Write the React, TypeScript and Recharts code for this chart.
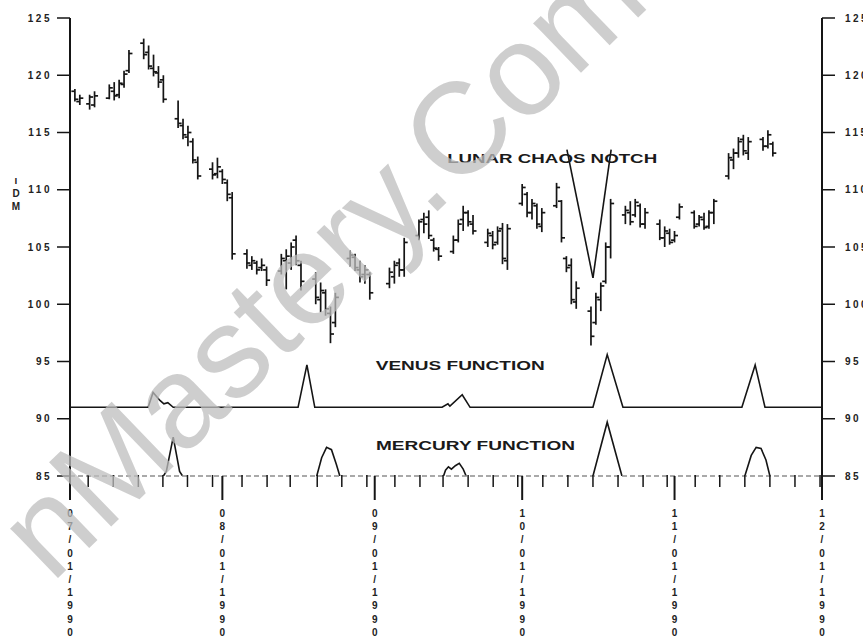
import React from 'react';
import { ComposedChart, Bar, Line, XAxis, YAxis, ReferenceLine, ReferenceDot } from 'recharts';

// trading days, counted in calendar days from 07/01/1990
const tradeDays = [
  1, 2, 4, 5, 8, 9, 10, 11, 12, 15, 16, 17, 18, 19, 22, 23, 24, 25, 26, 29, 30,
  31, 32, 33, 36, 37, 38, 39, 40, 43, 44, 45, 46, 47, 50, 51, 52, 53, 54, 57, 58, 59, 60, 61,
  65, 66, 67, 68, 71, 72, 73, 74, 75, 78, 79, 80, 81, 82, 85, 86, 87, 88, 89,
  92, 93, 94, 95, 96, 99, 100, 101, 102, 103, 106, 107, 108, 109, 110, 113, 114, 115, 116, 117, 120, 121, 122,
  123, 124, 127, 128, 129, 130, 131, 134, 135, 136, 137, 138, 141, 142, 143,
];
const highs = [
  118.8, 118.3, 118.3, 118.6, 119.2, 119.4, 119.6, 120.4, 122.2, 123.2, 122.6, 121.8, 120.8, 120.0, 117.8, 116.2, 115.6, 114.5, 112.9, 112.4, 112.8,
  111.8, 110.9, 109.8, 104.8, 104.2, 103.8, 104.0, 103.3, 104.4, 104.8, 105.4, 106.0, 103.8, 102.8, 101.9, 101.3, 99.8, 101.0, 104.7, 104.4, 103.8, 103.4, 102.8,
  103.2, 103.8, 104.0, 105.8, 107.4, 108.0, 108.2, 105.8, 105.0, 106.0, 107.4, 108.6, 108.2, 107.8, 106.6, 106.4, 106.8, 107.1, 107.0,
  110.5, 109.8, 109.2, 108.8, 108.4, 110.6, 109.1, 104.2, 104.0, 102.0, 99.8, 101.0, 101.9, 105.4, 109.2, 108.6, 109.0, 109.2, 108.8, 108.4, 107.4, 106.8, 106.6,
  106.4, 108.8, 108.2, 107.8, 108.0, 108.2, 109.2, 113.2, 113.6, 114.6, 114.8, 114.6, 114.6, 115.2, 114.2,
];
const lows = [
  117.7, 117.4, 117.0, 117.2, 117.9, 117.8, 118.0, 118.9, 120.2, 121.4, 120.5, 119.9, 118.9, 117.6, 115.4, 114.4, 113.8, 112.3, 110.9, 110.9, 111.0,
  110.5, 109.0, 103.9, 103.1, 103.0, 102.6, 102.9, 101.6, 102.6, 101.3, 103.0, 103.4, 101.2, 100.0, 99.3, 99.0, 96.6, 98.0, 103.3, 102.9, 101.9, 101.8, 100.4,
  101.4, 101.8, 102.4, 102.4, 105.6, 106.2, 105.7, 104.6, 103.8, 104.4, 105.4, 106.4, 106.8, 106.1, 105.0, 104.8, 105.2, 103.5, 103.0,
  108.6, 107.6, 107.4, 106.6, 106.3, 108.4, 105.4, 102.8, 100.0, 99.6, 96.4, 98.2, 99.4, 101.8, 104.0, 107.0, 106.9, 107.6, 106.7, 106.6, 105.6, 105.0, 105.2,
  105.4, 107.4, 106.6, 106.8, 106.5, 106.6, 107.0, 110.9, 111.8, 112.8, 113.0, 112.6, 113.4, 113.6, 112.9,
];
const opens = [
  118.6, 117.7, 117.5, 117.4, 118.0, 118.6, 118.3, 119.2, 120.4, 122.8, 122.0, 120.6, 120.2, 119.6, 116.2, 115.6, 114.6, 114.2, 112.4, 111.8, 111.4,
  111.6, 110.6, 109.3, 104.4, 103.4, 103.6, 103.2, 103.0, 102.9, 103.8, 103.6, 105.6, 103.4, 102.2, 100.4, 101.0, 99.2, 98.4, 104.0, 104.1, 103.0, 102.6, 102.6,
  101.8, 102.4, 103.6, 103.0, 106.0, 107.4, 107.6, 105.6, 104.8, 104.6, 105.6, 107.4, 108.0, 107.0, 105.4, 106.0, 105.4, 106.6, 103.8,
  108.8, 109.6, 108.0, 108.6, 106.8, 108.6, 109.0, 104.0, 103.4, 100.2, 99.4, 98.4, 100.4, 102.0, 105.0, 107.8, 108.0, 107.8, 108.6, 107.0, 107.0, 105.8, 106.2,
  105.6, 107.6, 108.0, 107.0, 107.4, 106.8, 108.0, 111.2, 112.6, 113.2, 114.4, 113.2, 114.4, 113.8, 114.0,
];
const closes = [
  117.9, 118.0, 118.1, 118.2, 118.9, 118.2, 119.3, 120.1, 121.9, 121.8, 120.8, 120.3, 119.4, 117.9, 115.8, 114.8, 115.0, 112.6, 111.2, 111.3, 112.0,
  110.9, 109.6, 104.4, 103.6, 103.8, 103.0, 103.4, 102.1, 104.0, 104.2, 105.0, 103.8, 102.0, 100.6, 101.2, 99.6, 97.4, 100.6, 104.3, 103.2, 102.4, 103.0, 101.0,
  102.8, 103.4, 103.0, 105.4, 107.2, 107.0, 106.0, 104.9, 104.2, 105.6, 107.0, 108.0, 107.2, 106.4, 106.2, 105.2, 106.4, 104.0, 106.6,
  110.2, 108.0, 108.8, 107.0, 108.0, 110.2, 105.8, 103.2, 100.4, 101.4, 97.2, 100.6, 101.6, 105.0, 108.8, 108.2, 107.2, 108.9, 107.0, 108.0, 105.8, 106.4, 105.4,
  106.0, 108.5, 106.8, 107.6, 106.7, 108.0, 109.0, 112.8, 113.2, 114.2, 113.4, 114.2, 113.8, 114.8, 113.2,
];

const monthTicks = [0, 31, 62, 92, 123, 153];
const monthLabels = ['07/01/1990', '08/01/1990', '09/01/1990', '10/01/1990', '11/01/1990', '12/01/1990'];
const minorTicks = [
  3.7, 8.8, 13.9, 18.9, 23.9, 29.0, 35.0, 40.1, 44.8, 50.3, 55.3, 60.4, 66.1, 71.2, 75.9,
  81.0, 86.1, 91.1, 96.2, 101.3, 106.4, 111.5, 116.6, 121.5, 127.2, 132.2, 137.3, 142.4, 147.5, 152.6,
];
const yTicks = [85, 90, 95, 100, 105, 110, 115, 120, 125];

const venusDays = [0, 15.9, 16.9, 18.3, 19.1, 19.9, 21.0, 46.4, 48.2, 49.8, 75.7, 76.9, 77.3, 79.8, 81.4, 106.4, 109.3, 112.5, 136.7, 139.4, 141.4, 153];
const venusValues = [91, 91, 92.3, 91.6, 91.3, 91.4, 91, 91, 94.7, 91, 91, 91.3, 91.1, 92.1, 91, 91, 95.6, 91, 91, 94.7, 91, 91];

const mercuryDays = [
  19.0, 19.6, 21.0, 22.3, 22.9, 30,
  50.2, 51.2, 52.2, 53.2, 54.2, 54.9, 60,
  76.0, 76.4, 77.0, 77.6, 78.4, 79.2, 80.0, 80.6, 90,
  106.4, 109.3, 112.3, 120,
  137.3, 138.6, 139.6, 140.6, 141.6, 142.4,
];
const mercuryValues = [
  85, 85.4, 88.4, 85.4, 85, null,
  85, 86.6, 87.5, 87.3, 86.0, 85, null,
  85, 85.5, 85.8, 85.6, 85.9, 86.1, 85.6, 85, null,
  85, 89.7, 85, null,
  85, 86.8, 87.5, 87.4, 86.4, 85,
];

const notchDays = [101.1, 106.4, 110.1];
const notchValues = [113.5, 102.3, 113.5];

const bars = tradeDays.map((day, i) => ({
  day,
  open: opens[i],
  high: highs[i],
  low: lows[i],
  close: closes[i],
  range: [lows[i], highs[i]],
}));
const venus = venusDays.map((day, i) => ({ day, v: venusValues[i] }));
const mercury = mercuryDays.map((day, i) => ({ day, v: mercuryValues[i] }));

const INK = '#151515';
const FONT = '"Liberation Sans", Arial, sans-serif';

function OhlcBar(props: any) {
  const { x, y, width, height, payload } = props;
  if (!payload) return null;
  const top = Math.min(y, y + height);
  const h = Math.abs(height);
  const cx = x + width / 2;
  const span = payload.high - payload.low || 1;
  const py = (v: number) => top + ((payload.high - v) / span) * h;
  return (
    <g stroke={INK} strokeWidth={1.7}>
      <line x1={cx} x2={cx} y1={top} y2={top + h} />
      <line x1={cx - 3.5} x2={cx} y1={py(payload.open)} y2={py(payload.open)} />
      <line x1={cx} x2={cx + 3.5} y1={py(payload.close)} y2={py(payload.close)} />
    </g>
  );
}

function DateTick(props: any) {
  const { x, y, payload } = props;
  const i = monthTicks.indexOf(payload.value);
  if (i < 0) {
    return <line x1={x} x2={x} y1={y - 1} y2={y + 11} stroke={INK} strokeWidth={1.5} />;
  }
  return (
    <g>
      <line x1={x} x2={x} y1={y} y2={y + 24} stroke={INK} strokeWidth={2} />
      {monthLabels[i].split('').map((c, k) => (
        <text key={k} x={x} y={y + 41 + k * 13.2} textAnchor="middle" fontSize={10} fontWeight={700} fontFamily={FONT} fill="#222">
          {c}
        </text>
      ))}
    </g>
  );
}

function ValueTick(props: any) {
  const { x, y, payload, textAnchor } = props;
  return (
    <text x={x} y={y} dy="0.35em" textAnchor={textAnchor} fontSize={10} fontWeight={700} fontFamily={FONT} fill="#222" letterSpacing={2.5}>
      {payload.value}
    </text>
  );
}

function note(text: string, size: number, len: number) {
  return (p: any) => (
    <text x={p.cx} y={p.cy} textAnchor="middle" dominantBaseline="central" fontSize={size} fontWeight={700}
      fontFamily={FONT} fill="#1a1a1a" textLength={len} lengthAdjust="spacingAndGlyphs">
      {text}
    </text>
  );
}

export default function App() {
  const allTicks = [...monthTicks, ...minorTicks].sort((a, b) => a - b);
  return (
    <div style={{ position: 'fixed', left: 0, top: 0, width: 863, height: 638, overflow: 'hidden', background: '#fff' }}>
      <ComposedChart width={900} height={638} data={bars} margin={{ top: 18, right: 0, bottom: 0, left: 0 }}>
        <XAxis dataKey="day" type="number" domain={[0, 153]} ticks={allTicks} interval={0} height={162}
          tickSize={0} tickMargin={0} tickLine={false} tick={<DateTick />}
          axisLine={{ stroke: '#8d8d8d', strokeWidth: 1.5, strokeDasharray: '5 3' }} allowDataOverflow />
        <YAxis yAxisId="l" domain={[85, 125]} ticks={yTicks} width={70} tickSize={13} tickMargin={5}
          tick={<ValueTick />} tickLine={{ stroke: INK, strokeWidth: 1.5 }} axisLine={{ stroke: INK, strokeWidth: 2 }} allowDataOverflow />
        <YAxis yAxisId="r" orientation="right" domain={[85, 125]} ticks={yTicks} width={78} tickSize={13} tickMargin={10}
          tick={<ValueTick />} tickLine={{ stroke: INK, strokeWidth: 1.5 }} axisLine={{ stroke: INK, strokeWidth: 2 }} allowDataOverflow />
        <Bar yAxisId="l" dataKey="range" barSize={6} shape={<OhlcBar />} isAnimationActive={false} />
        <Line yAxisId="l" data={venus} dataKey="v" type="linear" stroke={INK} strokeWidth={1.6} dot={false} isAnimationActive={false} />
        <Line yAxisId="l" data={mercury} dataKey="v" type="linear" stroke={INK} strokeWidth={1.6} dot={false} isAnimationActive={false} />
        <ReferenceLine yAxisId="l" segment={[{ x: notchDays[0], y: notchValues[0] }, { x: notchDays[1], y: notchValues[1] }]} stroke={INK} strokeWidth={1.6} />
        <ReferenceLine yAxisId="l" segment={[{ x: notchDays[1], y: notchValues[1] }, { x: notchDays[2], y: notchValues[2] }]} stroke={INK} strokeWidth={1.6} />
        <ReferenceDot yAxisId="l" x={98.1} y={112.7} r={1} shape={note('LUNAR CHAOS NOTCH', 13, 210)} />
        <ReferenceDot yAxisId="l" x={79.4} y={94.6} r={1} shape={note('VENUS FUNCTION', 12, 169)} />
        <ReferenceDot yAxisId="l" x={82.5} y={87.6} r={1} shape={note('MERCURY FUNCTION', 12, 199)} />
      </ComposedChart>
      <div style={{ position: 'absolute', left: 11, top: 174, width: 10, fontFamily: FONT, fontWeight: 700, fontSize: 10, lineHeight: '13px', textAlign: 'center', color: '#222' }}>
        <div>ı</div>
        <div>D</div>
        <div>M</div>
      </div>
      <div style={{ position: 'absolute', left: -25, top: 505, transform: 'rotate(-44deg)', transformOrigin: '0 0', whiteSpace: 'nowrap',
        fontFamily: FONT, fontSize: 130, lineHeight: 1, color: 'rgba(190,190,190,0.75)', pointerEvents: 'none' }}>
        nMastery.Com
      </div>
    </div>
  );
}
